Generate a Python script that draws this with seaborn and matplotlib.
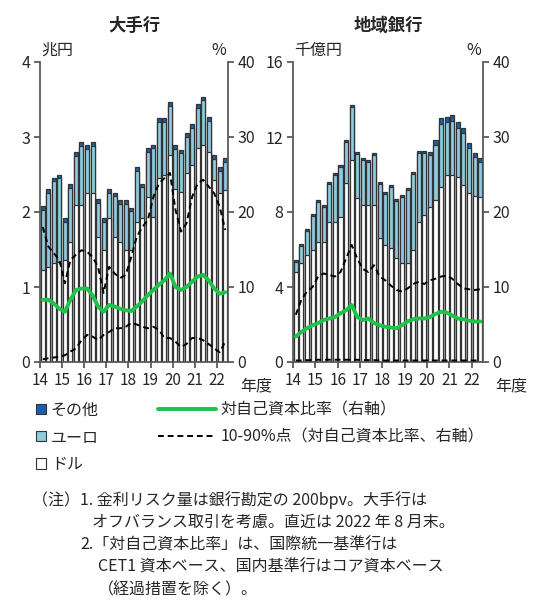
import matplotlib
matplotlib.use("Agg")
import matplotlib.pyplot as plt
from matplotlib.patches import Patch
from matplotlib.lines import Line2D
import numpy as np
import seaborn as sns

# quarterly, FY2014 Q1 .. 2022/8
years = ["14", "15", "16", "17", "18", "19", "20", "21", "22"]

# 大手行 (兆円)
major_dollar = [1.23, 1.27, 1.32, 1.34, 1.36, 1.60, 2.09, 2.10, 2.25, 2.25, 1.67, 1.49,
                1.92, 1.67, 1.60, 1.49, 1.49, 1.87, 1.92, 2.20, 1.94, 2.45, 2.50, 2.76,
                2.31, 2.27, 2.52, 2.63, 2.85, 2.89, 2.80, 2.43, 2.25, 2.29]
major_euro = [0.80, 0.99, 1.09, 1.11, 0.51, 0.72, 0.66, 0.78, 0.59, 0.63, 0.45, 0.38,
              0.34, 0.54, 0.51, 0.62, 0.52, 0.68, 0.41, 0.60, 0.91, 0.75, 0.70, 0.66,
              0.53, 0.51, 0.48, 0.49, 0.54, 0.60, 0.42, 0.28, 0.30, 0.38]
major_other = [0.05] * 34
major_ratio = [8.3, 8.3, 7.8, 7.1, 6.7, 8.3, 9.6, 9.8, 9.8, 8.9, 7.4, 6.7,
               7.6, 7.4, 7.1, 6.9, 6.8, 7.4, 8.1, 8.9, 9.6, 10.3, 10.9, 11.8,
               10.0, 9.6, 10.0, 10.7, 11.4, 11.6, 10.9, 9.8, 9.1, 9.3]
major_p90 = [18.0, 15.4, 14.5, 13.6, 10.5, 13.6, 14.3, 14.9, 14.7, 14.0, 12.7, 9.2,
             12.7, 11.8, 11.2, 11.6, 14.0, 16.7, 18.0, 18.9, 22.0, 23.8, 24.5, 25.2,
             20.3, 17.4, 18.5, 22.0, 23.8, 24.3, 23.4, 22.5, 20.7, 17.6]
major_p10 = [0.35, 0.5, 0.6, 0.7, 0.9, 1.4, 1.8, 2.9, 3.6, 3.4, 2.9, 3.6,
             4.0, 4.5, 4.5, 4.7, 5.2, 5.0, 4.7, 4.5, 4.7, 4.3, 3.2, 3.2,
             2.7, 2.0, 2.4, 3.2, 3.2, 2.9, 2.4, 1.8, 1.3, 2.7]

# 地域銀行 (千億円)
region_dollar = [4.82, 5.26, 5.70, 6.00, 6.40, 6.40, 7.48, 7.48, 7.75, 9.53, 10.77, 8.73,
                 8.37, 8.37, 8.37, 6.60, 6.24, 6.06, 5.53, 5.26, 5.26, 5.97, 7.48, 7.84,
                 8.28, 8.64, 9.35, 9.97, 9.97, 9.88, 9.44, 9.00, 8.85, 8.82]
region_euro = [0.52, 0.93, 1.27, 1.79, 2.14, 1.87, 2.04, 2.48, 2.65, 2.21, 2.83, 2.37,
               2.39, 2.30, 2.66, 2.92, 2.74, 3.28, 3.05, 3.54, 3.90, 4.08, 3.69, 3.33,
               2.77, 2.95, 3.35, 2.81, 2.90, 2.62, 2.77, 2.41, 2.08, 1.84]
region_other = [0.1] * 24 + [0.15, 0.25, 0.3, 0.3, 0.3, 0.3, 0.25, 0.25, 0.2, 0.2]
region_ratio = [3.4, 4.0, 4.5, 4.9, 5.2, 5.6, 5.8, 6.0, 6.5, 6.9, 7.6, 6.0,
                5.6, 5.8, 5.2, 4.9, 4.7, 4.6, 4.5, 4.9, 5.4, 5.7, 5.8, 5.8,
                6.0, 6.4, 6.7, 6.6, 6.2, 5.8, 5.7, 5.5, 5.4, 5.4]
region_p90 = [6.3, 8.3, 9.4, 10.0, 11.4, 11.8, 11.6, 11.4, 12.0, 13.8, 15.6, 13.8,
              12.4, 12.0, 12.9, 11.4, 10.9, 10.2, 9.6, 9.4, 9.8, 10.4, 10.7, 10.4,
              10.9, 11.1, 11.4, 11.5, 11.1, 10.4, 9.8, 9.7, 9.6, 9.7]
region_p10 = [0.2, 0.2, 0.25, 0.25, 0.3, 0.3, 0.3, 0.3, 0.3, 0.3, 0.3, 0.3,
              0.25, 0.25, 0.25, 0.2, 0.2, 0.2, 0.2, 0.2, 0.2, 0.2, 0.2, 0.2,
              0.2, 0.2, 0.2, 0.2, 0.2, 0.2, 0.2, 0.2, 0.2, 0.2]

C_OTHER = "#1d5fa6"
C_EURO = "#8ecbdf"
C_DOLLAR = "white"
C_GREEN = "#1fc24a"
EDGE = "#333333"

sns.set_theme(style="ticks")
plt.rcParams["font.family"] = ["Noto Sans CJK JP", "DejaVu Sans"]

fig = plt.figure(figsize=(5.4, 6.16), dpi=100)


def panel(rect, dollar, euro, other, ratio, p90, p10, ymax, ystep, title, unit):
    ax = fig.add_axes(rect)
    n = len(dollar)
    pos = np.arange(n)
    dollar = np.array(dollar)
    de = dollar + np.array(euro)
    tot = de + np.array(other)
    kw = dict(ax=ax, width=0.72, edgecolor=EDGE, linewidth=0.9, saturation=1)
    sns.barplot(x=pos, y=tot, color=C_OTHER, **kw)
    sns.barplot(x=pos, y=de, color=C_EURO, **kw)
    sns.barplot(x=pos, y=dollar, color=C_DOLLAR, **kw)
    ax.set_xlim(-0.5, n - 0.5)
    ax.set_ylim(0, ymax)
    ax.set_yticks(np.arange(0, ymax + 0.01, ystep))
    ax.set_yticklabels([f"{v:g}" for v in np.arange(0, ymax + 0.01, ystep)])
    ax.set_xticks(np.arange(-0.5, n - 1, 4))
    ax.set_xticklabels(years)
    ax.set_xlabel("")
    ax.set_ylabel("")
    ax.tick_params(axis="both", labelsize=11.5, length=4, color="#555555", pad=3)
    ax.tick_params(axis="x", labelsize=11)
    for s in ["left", "bottom"]:
        ax.spines[s].set_color("#555555")
    ax.spines["top"].set_visible(False)
    ax.spines["right"].set_visible(False)

    ax2 = ax.twinx()
    sns.lineplot(x=pos, y=p90, ax=ax2, color="black", lw=1.4, dashes=False)
    sns.lineplot(x=pos, y=p10, ax=ax2, color="black", lw=1.4, dashes=False)
    for ln in ax2.get_lines():
        ln.set_dashes((3, 2))
    sns.lineplot(x=pos, y=ratio, ax=ax2, color=C_GREEN, lw=2.8)
    ax2.set_ylim(0, 40)
    ax2.set_yticks([0, 10, 20, 30, 40])
    ax2.set_ylabel("")
    ax2.tick_params(axis="y", labelsize=11.5, length=4, color="#555555", pad=3)
    ax2.spines["right"].set_color("#555555")
    for s in ["top", "left", "bottom"]:
        ax2.spines[s].set_visible(False)

    x0, y0, w, h = rect
    fig.text(x0 + w / 2, 0.958, title, ha="center", va="center", fontsize=12.5,
             fontweight="bold")
    fig.text(x0 + 0.003, 0.918, unit, ha="left", va="center", fontsize=11.5)
    fig.text(x0 + w - 0.003, 0.918, "%", ha="right", va="center", fontsize=11.5)
    fig.text(x0 + w + 0.022, 0.374, "年度", ha="left", va="center", fontsize=11.5)
    return ax


panel([40 / 540, 1 - 362 / 616, 188 / 540, 300 / 616],
      major_dollar, major_euro, major_other, major_ratio, major_p90, major_p10,
      4, 1, "大手行", "兆円")
panel([293 / 540, 1 - 362 / 616, 190 / 540, 300 / 616],
      region_dollar, region_euro, region_other, region_ratio, region_p90, region_p10,
      16, 4, "地域銀行", "千億円")

patches = [Patch(facecolor=C_OTHER, edgecolor=EDGE, lw=0.8),
           Patch(facecolor=C_EURO, edgecolor=EDGE, lw=0.8),
           Patch(facecolor=C_DOLLAR, edgecolor=EDGE, lw=0.8)]
fig.legend(patches, ["その他", "ユーロ", "ドル"], loc="upper left",
           bbox_to_anchor=(30 / 540, 1 - 395 / 616), frameon=False, fontsize=11.5,
           handlelength=0.6, handleheight=0.6, handletextpad=0.3, labelspacing=0.65,
           borderaxespad=0)
lines = [Line2D([], [], color=C_GREEN, lw=2.8),
         Line2D([], [], color="black", lw=1.4, dashes=(3, 2))]
fig.legend(lines, ["対自己資本比率（右軸）", "10-90%点（対自己資本比率、右軸）"],
           loc="upper left", bbox_to_anchor=(152 / 540, 1 - 395 / 616), frameon=False,
           fontsize=11.5, handlelength=3.6, handletextpad=0.3, labelspacing=0.65,
           borderaxespad=0)

notes = [
    (32, 500, "（注）1. 金利リスク量は銀行勘定の 200bpv。大手行は"),
    (92, 522, "オフバランス取引を考慮。直近は 2022 年 8 月末。"),
    (80, 545, "2.「対自己資本比率」は、国際統一基準行は"),
    (98, 567, "CET1 資本ベース、国内基準行はコア資本ベース"),
    (98, 590, "（経過措置を除く）。"),
]
for x, y, t in notes:
    fig.text(x / 540, 1 - y / 616, t, ha="left", va="center", fontsize=11.5)

fig.savefig("out.png", dpi=100)
